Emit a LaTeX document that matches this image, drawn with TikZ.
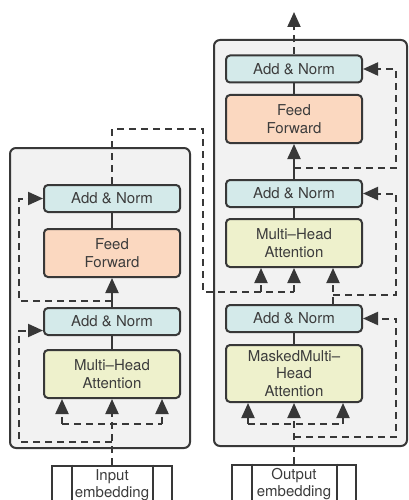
\documentclass[tikz,border=0pt]{standalone}
\usepackage{fontspec}
\setmainfont{TeX Gyre Heros}
\usetikzlibrary{arrows.meta,calc}
\definecolor{linec}{HTML}{383838}
\definecolor{bgc}{HTML}{F2F2F2}
\definecolor{normc}{HTML}{D4EAEA}
\definecolor{ffc}{HTML}{FBD8C0}
\definecolor{attc}{HTML}{EEF1CC}
\definecolor{textc}{HTML}{3C3C3C}
\begin{document}
\begin{tikzpicture}[x=1pt,y=-1pt,
        line width=2pt, draw=linec,
        blk/.style={draw=linec, rounded corners=4pt, minimum width=136pt, align=center,
            text=textc, font=\fontsize{15}{17.5}\selectfont, inner sep=0pt},
        addnorm/.style={blk, fill=normc, minimum height=27pt},
        ffbox/.style={blk, fill=ffc, minimum height=48pt},
        attbox/.style={blk, fill=attc, minimum height=48pt},
        embbox/.style={draw=linec, fill=white, align=center, text=textc,
            font=\fontsize{15}{17.5}\selectfont, inner sep=0pt, minimum height=39pt},
        group/.style={draw=linec, fill=bgc, rounded corners=6pt},
        dsh/.style={dash pattern=on 7pt off 5pt},
        arr/.style={-{Triangle[length=15pt,width=13pt]}}]
    \useasboundingbox (0,0) rectangle (409,500);

    % encoder and decoder blocks
    \draw[group] (10,148) rectangle (190,448);
    \draw[group] (214,40) rectangle (407,446);

    % encoder
    \node[addnorm] (encAN2) at (112,198.5) {Add \& Norm};
    \node[ffbox] (encFF) at (112,253) {Feed\\Forward};
    \node[addnorm] (encAN1) at (112,321.5) {Add \& Norm};
    \node[attbox] (encMHA) at (112,374) {Multi–Head\\Attention};
    \node[embbox, minimum width=120pt, anchor=north] (inEmb) at (112,464.5) {Input\\embedding};
    \draw ($(inEmb.north west)+(21,0)$) -- ($(inEmb.south west)+(21,0)$);
    \draw ($(inEmb.north east)+(-20,0)$) -- ($(inEmb.south east)+(-20,0)$);

    % decoder
    \node[addnorm] (decAN3) at (294,69) {Add \& Norm};
    \node[ffbox] (decFF) at (294,119) {Feed\\Forward};
    \node[addnorm] (decAN2) at (294,193.5) {Add \& Norm};
    \node[attbox] (decMHA) at (294,243) {Multi–Head\\Attention};
    \node[addnorm] (decAN1) at (294,318.5) {Add \& Norm};
    \node[attbox, minimum height=57pt] (decMMHA) at (294,373.5) {MaskedMulti–\\Head\\Attention};
    \node[embbox, minimum width=124pt, anchor=north] (outEmb) at (294,463.5) {Output\\embedding};
    \draw ($(outEmb.north west)+(21,0)$) -- ($(outEmb.south west)+(21,0)$);
    \draw ($(outEmb.north east)+(-20,0)$) -- ($(outEmb.south east)+(-20,0)$);

    % encoder connections
    \coordinate (encK) at (62,424);
    \coordinate (encQ) at (162,424);
    \coordinate (encRes1) at (112,442);
    \coordinate (encLeft1) at (19,442);
    \coordinate (encRes2) at (112,301);
    \coordinate (encLeft2) at (19,301);
    \draw[dsh,arr] (inEmb.north) -- (encMHA.south);
    \draw[dsh] (encK) -- (encQ);
    \draw[dsh,arr] (encK) -- (encK |- encMHA.south);
    \draw[dsh,arr] (encQ) -- (encQ |- encMHA.south);
    \draw[dsh,arr] (encRes1) -- (encLeft1) |- ([yshift=-9pt]encAN1.west);
    \draw (encMHA.north) -- (encAN1.south);
    \draw[arr] (encAN1.north) -- (encFF.south);
    \draw[dsh,arr] (encRes2) -- (encLeft2) |- (encAN2.west);
    \draw (encFF.north) -- (encAN2.south);

    % encoder output into decoder
    \coordinate (encOut) at (203,129);
    \coordinate (decK) at (261,292);
    \coordinate (decV) at (294,292);
    \draw[dsh] (encAN2.north) |- (encOut) |- (decV);
    \draw[dsh,arr] (decV) -- (decMHA.south);
    \draw[dsh,arr] (decK) -- (decK |- decMHA.south);

    % decoder connections
    \coordinate (decK1) at (248,424);
    \coordinate (decQ1) at (343,424);
    \coordinate (decRes1) at (294,437);
    \coordinate (decRight1) at (396,437);
    \coordinate (decQ) at (333,295);
    \coordinate (decRight2) at (396,295);
    \coordinate (decRes3) at (294,168);
    \coordinate (decRight3) at (396,168);
    \coordinate (decOut) at (294,12);
    \draw[dsh,arr] (outEmb.north) -- (decMMHA.south);
    \draw[dsh] (decK1) -- (decQ1);
    \draw[dsh,arr] (decK1) -- (decK1 |- decMMHA.south);
    \draw[dsh,arr] (decQ1) -- (decQ1 |- decMMHA.south);
    \draw[dsh,arr] (decRes1) -- (decRight1) |- (decAN1.east);
    \draw (decMMHA.north) -- (decAN1.south);
    \draw[dsh,arr] (decAN1.north -| decQ) -- (decQ |- decMHA.south);
    \draw[dsh,arr] (decQ) -- (decRight2) |- (decAN2.east);
    \draw (decMHA.north) -- (decAN2.south);
    \draw[arr] (decAN2.north) -- (decFF.south);
    \draw[dsh,arr] (decRes3) -- (decRight3) |- (decAN3.east);
    \draw (decFF.north) -- (decAN3.south);
    \draw[dsh,arr] (decAN3.north) -- (decOut);
\end{tikzpicture}
\end{document}
